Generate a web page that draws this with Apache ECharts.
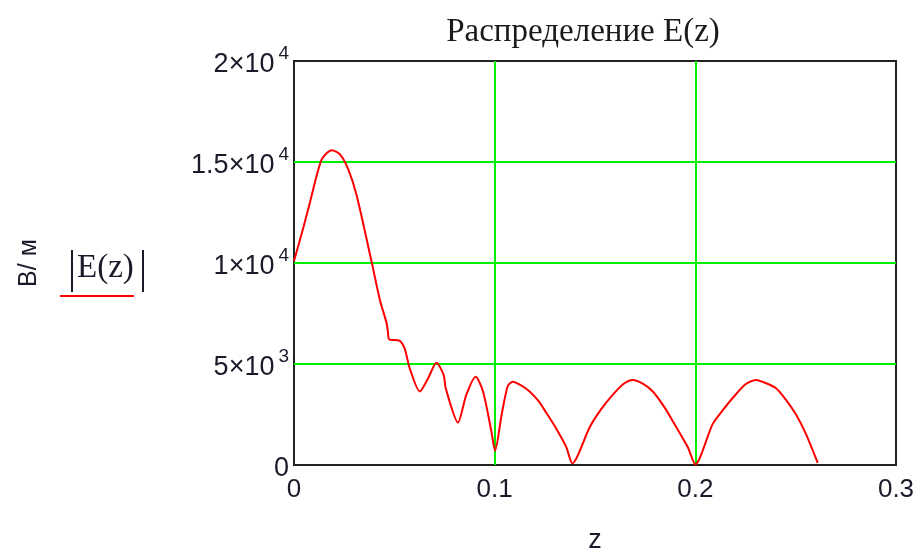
<!DOCTYPE html>
<html>
<head>
<meta charset="utf-8">
<script src="https://cdn.jsdelivr.net/npm/echarts@6/dist/echarts.min.js"></script>
<style>html,body{margin:0;padding:0;background:#fff}#c{width:924px;height:559px}</style>
</head>
<body>
<div id="c"></div>
<script>
// ---- data ----
var titleText = 'Распределение E(z)';
var xName = 'z';
var yName = 'В/ м';
var seriesName = 'E(z)';
var zValues = [0.000, 0.0046, 0.008, 0.0138, 0.0188, 0.0229, 0.027, 0.0312, 0.0387, 0.0428, 0.0461, 0.0468, 0.0474, 0.0527, 0.0552, 0.0577, 0.0627, 0.0668, 0.071, 0.0746, 0.0756, 0.0817, 0.0859, 0.0905, 0.0942, 0.0983, 0.1002, 0.1035, 0.1065, 0.1091, 0.113, 0.1174, 0.122, 0.1257, 0.131, 0.1357, 0.1387, 0.1473, 0.153, 0.1589, 0.164, 0.1688, 0.174, 0.1788, 0.184, 0.1887, 0.1962, 0.2000, 0.2086, 0.214, 0.2186, 0.225, 0.2302, 0.235, 0.2402, 0.245, 0.2501, 0.2551, 0.261];
var eValues = [10100, 11733, 13025, 15131, 15583, 15373, 14644, 13350, 10049, 8172, 7039, 6600, 6228, 6149, 5745, 4773, 3641, 4288, 5065, 4450, 3800, 2102, 3480, 4369, 3641, 1699, 700, 2500, 3900, 4126, 3950, 3641, 3150, 2589, 1750, 888, 80, 1859, 2750, 3480, 4000, 4207, 4020, 3641, 2950, 2184, 888, 30, 2023, 2750, 3317, 4000, 4207, 4060, 3800, 3250, 2508, 1537, 100];
var xTicks = [0, 0.1, 0.2, 0.3];
var xTickLabels = ['0', '0.1', '0.2', '0.3'];
var yTicks = [0, 5000, 10000, 15000, 20000];
var yTickMantissa = ['0', '5×10', '1×10', '1.5×10', '2×10'];
var yTickExp = ['', '3', '4', '4', '4'];

var points = zValues.map(function (z, i) { return [z, eValues[i]]; });

var chart = echarts.init(document.getElementById('c'), null, {renderer: 'canvas'});
var sans = 'Liberation Sans, Arial, sans-serif';
var serif = 'Liberation Serif, Times New Roman, serif';
var txt = '#1a1a2a';

chart.setOption({
  animation: false,
  backgroundColor: '#fff',
  title: {
    text: titleText,
    left: 578, top: 11, textAlign: 'center',
    textStyle: {fontFamily: serif, fontSize: 33, fontWeight: 'normal', color: '#1a1a1a'}
  },
  grid: {
    left: 294, right: 28, top: 61, bottom: 84,
    show: true, borderColor: '#222', borderWidth: 2, backgroundColor: 'transparent'
  },
  xAxis: {
    type: 'value', min: xTicks[0], max: xTicks[xTicks.length - 1], interval: 0.1,
    name: xName, nameLocation: 'middle', nameGap: 62,
    nameTextStyle: {fontFamily: sans, fontSize: 27, color: txt},
    axisLine: {show: false},
    axisTick: {show: false},
    splitLine: {show: true, showMinLine: false, showMaxLine: false, lineStyle: {color: '#00ee00', width: 2}},
    axisLabel: {
      margin: 12, fontFamily: sans, fontSize: 26, color: txt,
      formatter: function (v) {
        var i = xTicks.findIndex(function (t) { return Math.abs(t - v) < 1e-9; });
        return i >= 0 ? xTickLabels[i] : '';
      }
    }
  },
  yAxis: {
    type: 'value', min: yTicks[0], max: yTicks[yTicks.length - 1], interval: 5000,
    name: yName, nameLocation: 'middle', nameGap: 252, nameRotate: 90,
    nameTextStyle: {fontFamily: sans, fontSize: 25, color: txt},
    axisLine: {show: false},
    axisTick: {show: false},
    splitLine: {show: true, showMinLine: false, showMaxLine: false, lineStyle: {color: '#00ee00', width: 2}},
    axisLabel: {
      margin: 5,
      formatter: function (v) {
        var i = yTicks.indexOf(v);
        if (i < 0) return '';
        if (!yTickExp[i]) return '{m|' + yTickMantissa[i] + '}';
        return '{m|' + yTickMantissa[i] + '}{e|' + yTickExp[i] + '}';
      },
      rich: {
        m: {fontFamily: sans, fontSize: 27, color: txt, padding: [8, 0, 0, 0]},
        e: {fontFamily: sans, fontSize: 19, color: txt, padding: [0, 0, 15, 4]}
      }
    }
  },
  graphic: [
    {type: 'text', left: 77, top: 252, style: {text: seriesName, fontFamily: serif, fontSize: 33, fill: '#1a1a2a'}},
    {type: 'rect', shape: {x: 71, y: 250, width: 2, height: 42}, style: {fill: '#1a1a2a'}},
    {type: 'rect', shape: {x: 142, y: 250, width: 2, height: 42}, style: {fill: '#1a1a2a'}},
    {type: 'line', shape: {x1: 60, y1: 296, x2: 134, y2: 296}, style: {stroke: '#ff0000', lineWidth: 2}}
  ],
  series: [{
    type: 'line', name: seriesName, data: points, showSymbol: false,
    smooth: 0.25, lineStyle: {color: '#ff0000', width: 2}, clip: true
  }]
});
</script>
</body>
</html>
